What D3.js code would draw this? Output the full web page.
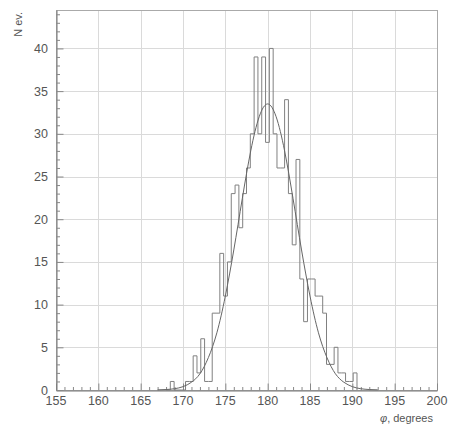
<!DOCTYPE html>
<html>
<head>
<meta charset="utf-8">
<script src="https://cdn.jsdelivr.net/npm/d3@7"></script>
<style>
body{
  margin:0;
  background:#fff;
  font-family:"Liberation Sans", Arial, sans-serif;
}
svg text{ fill:#555; }
</style>
</head>
<body>
<svg id="chart" width="453" height="432"></svg>
<script>
// histogram: 100 bins of 0.45 deg between 155 and 200, only the filled part kept
var binWidth = 0.45
var histStart = 168.5   // low edge of the first bin listed below
var counts = [1,0,0,0,1,1,4,2,6,1,1,9,9,16,11,15,23,24,19,23,26,30,39,30,39,29,40,30,26,26,34,23,17,27,13,8,13,13,11,11,9,3,3,5,2,2,1,1,2]

// fitted gaussian, every degree
var fitX = [167,168,169,170,171,172,173,174,175,176,177,178,179,180,181,182,183,184,185,186,187,188,189,190,191,192,193]
var fitY = [0.02,0.055,0.15,0.39,0.91,1.9,3.8,6.7,11.0,16.4,22.4,28.0,32.0,33.5,32.0,28.0,22.4,16.4,11.0,6.7,3.8,1.9,0.91,0.39,0.15,0.055,0.02]

var xTicks = [155,160,165,170,175,180,185,190,195,200]
var yTicks = [0,5,10,15,20,25,30,35,40]

// frame edges (top is taken by window.top, so prefixed names)
var fL = 56, fR = 437, fT = 10, fB = 390
var svg = d3.select('#chart')
var x = d3.scaleLinear().domain([155,200]).range([fL,fR])
var y = d3.scaleLinear().domain([0,44.5]).range([fB,fT])

// grid
var grid = svg.append('g').attr('stroke','#dadada').attr('stroke-width',1)
grid.selectAll('line.vx').data(xTicks.slice(1,-1)).enter().append('line')
  .attr('x1',d=>Math.round(x(d))+0.5).attr('x2',d=>Math.round(x(d))+0.5).attr('y1',fT).attr('y2',fB)
grid.selectAll('line.hy').data(yTicks.slice(1)).enter().append('line')
  .attr('y1',d=>Math.round(y(d))+0.5).attr('y2',d=>Math.round(y(d))+0.5).attr('x1',fL).attr('x2',fR)

// frame
svg.append('rect').attr('x',fL+0.5).attr('y',fT+0.5).attr('width',fR-fL).attr('height',fB-fT)
  .attr('fill','none').attr('stroke','#aaa')

// axes, ticks pointing inside the frame
var xAxis = d3.axisTop(x).tickValues(d3.range(155,201,1)).tickFormat('')
  .tickSizeInner(0).tickSizeOuter(0)
var gx = svg.append('g').attr('transform','translate(0,'+(fB+0.5)+')')
gx.call(xAxis)
gx.select('.domain').attr('stroke','#777')
gx.selectAll('.tick line').attr('stroke','#888').attr('y2',d=>d%5==0?-7:-3.5)

var yAxis = d3.axisRight(y).tickValues(d3.range(0,45,1)).tickFormat('')
  .tickSizeInner(0).tickSizeOuter(0)
var gy = svg.append('g').attr('transform','translate('+(fL+0.5)+',0)')
gy.call(yAxis)
gy.select('.domain').attr('stroke','#777')
gy.selectAll('.tick line').attr('stroke','#888').attr('x2',d=>d%5==0?7:3.5)

// tick labels
svg.selectAll('text.xl').data(xTicks).enter().append('text')
  .attr('x',d=>x(d)).attr('y',405).attr('text-anchor','middle')
  .attr('font-size','12.5px').text(d=>d)
svg.selectAll('text.yl').data(yTicks).enter().append('text')
  .attr('x',48).attr('y',d=>y(d)+4.5).attr('text-anchor','end')
  .attr('font-size','12.5px').text(d=>d)

// axis titles
svg.append('text').attr('transform','translate(22,12) rotate(-90)').attr('text-anchor','end')
  .attr('font-size','11px').text('N ev.')
var xt = svg.append('text').attr('x',433).attr('y',422).attr('text-anchor','end').attr('font-size','11px')
xt.append('tspan').attr('font-style','italic').text('φ')
xt.append('tspan').text(', degrees')

// histogram outline
var steps = [[histStart-binWidth,0]]
counts.forEach(function(c,i){ steps.push([histStart+i*binWidth,c]) })
steps.push([histStart+counts.length*binWidth,0])
var hline = d3.line().x(d=>x(d[0])).y(d=>y(d[1])).curve(d3.curveStepAfter)
svg.append('path').datum(steps).attr('d',hline)
  .attr('fill','none').attr('stroke','#808080').attr('stroke-width',1)

// fit curve
var fline = d3.line().x((d,i)=>x(fitX[i])).y(d=>y(d)).curve(d3.curveNatural)
svg.append('path').datum(fitY).attr('d',fline)
  .attr('fill','none').attr('stroke','#666').attr('stroke-width',1)
</script>
</body>
</html>
